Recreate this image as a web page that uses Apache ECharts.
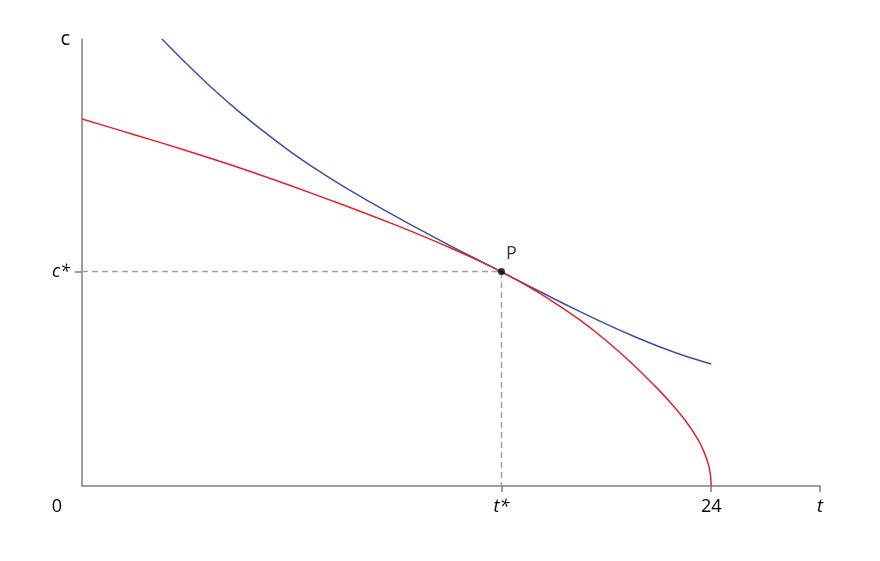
<!DOCTYPE html>
<html>
<head>
<meta charset="utf-8">
<script src="https://cdn.jsdelivr.net/npm/echarts@6/dist/echarts.min.js"></script>
<style>
  html, body { margin: 0; padding: 0; background: #fff; }
  #chart { width: 880px; height: 561px; }
</style>
</head>
<body>
<div id="chart"></div>
<script>
// 读图得到的数据
var redT = [0, 2, 4, 6, 8, 10, 12, 13, 14, 15, 16, 17, 18, 19, 20, 21, 22, 22.5, 23, 23.5, 23.75, 23.9, 23.97, 24];
var redC = [8.21, 7.86, 7.50, 7.12, 6.71, 6.28, 5.83, 5.59, 5.34, 5.075, 4.79, 4.47, 4.11, 3.71, 3.25, 2.73, 2.15, 1.83, 1.475, 1.036, 0.73, 0.462, 0.253, 0];

var blueT = [3.05, 4, 5, 6, 7, 8, 9, 10, 11, 12, 13, 14, 15, 16, 17, 18, 19, 20, 21, 22, 23, 24];
var blueC = [10.0, 9.44, 8.88, 8.37, 7.90, 7.46, 7.06, 6.69, 6.35, 6.02, 5.70, 5.39, 5.09, 4.79, 4.49, 4.19, 3.90, 3.62, 3.36, 3.12, 2.91, 2.73];

var tStar = 16;
var cStar = 4.8;
var tEnd = 24;
var tMax = 28.15;
var cMax = 10;

var xTicks = [0, tStar, tEnd, tMax];
var xTickText = ['0', 't*', '24', 't'];
var yTicks = [cStar, cMax];
var yTickText = ['c*', 'c'];

function pairs(xs, ys) {
    return xs.map(function (x, i) { return [x, ys[i]]; });
}

var myChart = echarts.init(document.getElementById('chart'));

var axisColor = '#7f7f7f';
var labelFont = '"Open Sans", "Noto Sans", sans-serif';
var fs = 18;

var option = {
    animation: false,
    backgroundColor: '#fff',
    grid: { left: 82, right: 60, top: 39, bottom: 75, outerBoundsMode: 'none' },
    xAxis: {
        type: 'value',
        min: 0,
        max: tMax,
        splitLine: { show: false },
        axisLine: { show: true, lineStyle: { color: axisColor, width: 1.5 } },
        axisTick: { show: true, customValues: [tStar, tEnd, tMax], length: 6, lineStyle: { color: axisColor, width: 1.5 } },
        axisLabel: {
            customValues: xTicks,
            margin: 12,
            color: '#000',
            fontFamily: labelFont,
            fontSize: fs,
            formatter: function (v) {
                var s = xTickText[xTicks.indexOf(v)];
                if (v === 0) return '{z|' + s + '}';
                if (s === '24') return s;
                return '{i|' + s + '}';
            },
            rich: {
                z: { padding: [0, 50, 0, 0], fontSize: fs, fontFamily: labelFont, color: '#000' },
                i: { fontStyle: 'italic', fontSize: fs, fontFamily: labelFont, color: '#000' }
            }
        }
    },
    yAxis: {
        type: 'value',
        min: 0,
        max: cMax,
        splitLine: { show: false },
        axisLine: { show: true, lineStyle: { color: axisColor, width: 1.5 } },
        axisTick: { show: true, customValues: [cStar], length: 7, lineStyle: { color: axisColor, width: 1.5 } },
        axisLabel: {
            customValues: yTicks,
            margin: 12,
            color: '#000',
            fontFamily: labelFont,
            fontSize: fs,
            formatter: function (v) {
                var s = yTickText[yTicks.indexOf(v)];
                return v === cStar ? '{i|' + s + '}' : '{n|' + s + '}';
            },
            rich: {
                i: { fontStyle: 'italic', fontSize: fs, fontFamily: labelFont, color: '#000' },
                n: { fontSize: 20, fontFamily: labelFont, color: '#000' }
            }
        }
    },
    series: [
        {
            // 虚线
            type: 'line',
            data: [[0, cStar], [tStar, cStar], [tStar, 0]],
            symbol: 'none',
            lineStyle: { color: '#a0a0a0', width: 1.5, type: [6, 4] },
            z: 1
        },
        {
            type: 'line',
            data: pairs(blueT, blueC),
            smooth: 0.3,
            symbol: 'none',
            lineStyle: { color: '#3b4fa6', width: 1.5 },
            z: 2
        },
        {
            type: 'line',
            data: pairs(redT, redC),
            smooth: 0.3,
            symbol: 'none',
            lineStyle: { color: '#e8202a', width: 1.5 },
            z: 3
        },
        {
            type: 'scatter',
            data: [[tStar, cStar]],
            symbolSize: 7,
            itemStyle: { color: '#000' },
            label: {
                show: true,
                formatter: 'P',
                position: [8, -23],
                color: '#000',
                fontFamily: labelFont,
                fontSize: fs
            },
            z: 4
        }
    ]
};

myChart.setOption(option);
</script>
</body>
</html>
